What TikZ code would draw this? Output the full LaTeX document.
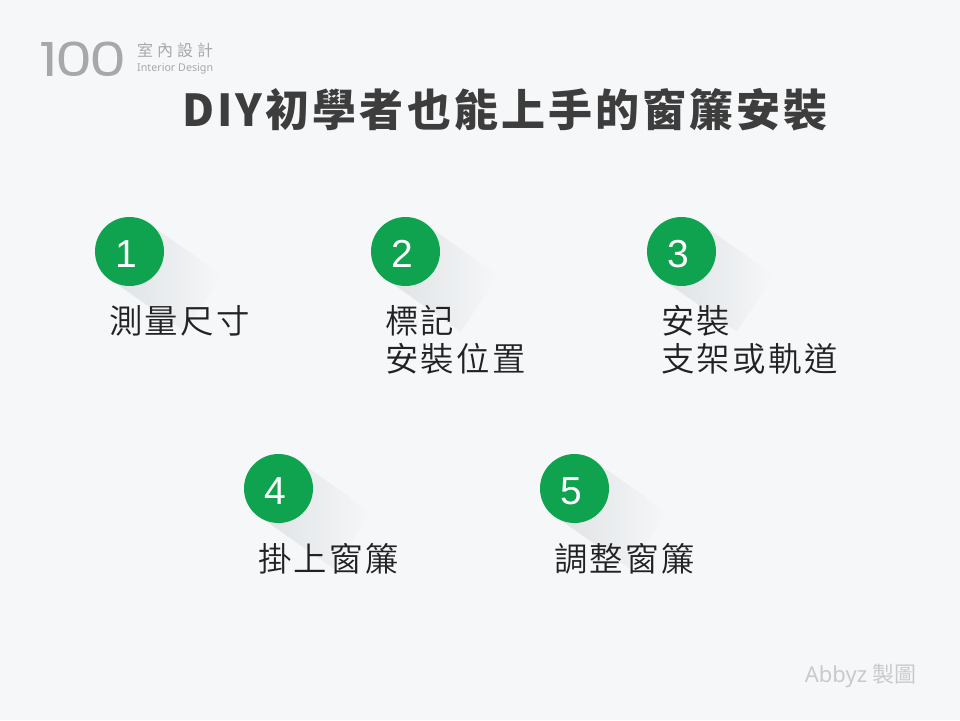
\documentclass[tikz,border=0pt]{standalone}
\usepackage{fontspec}
\setmainfont{Noto Sans}
\newfontfamily\cjkreg[LetterSpace=7]{Noto Sans CJK TC DemiLight}
\newfontfamily\cjktitle[LetterSpace=7]{Noto Sans CJK TC Black}
\newfontfamily\cjklogo[LetterSpace=25]{Noto Sans CJK TC}
\newfontfamily\cjkplain{Noto Sans CJK TC}
\newfontfamily\popfont{Poppins}
\newfontfamily\digitfont{Liberation Sans}
\definecolor{bgcol}{HTML}{F5F7F9}
\definecolor{greencol}{HTML}{0FA34F}
\definecolor{shadowcol}{HTML}{DFE2E4}
\definecolor{inkcol}{HTML}{222222}
\definecolor{titlecol}{HTML}{3D3D3D}
\definecolor{logocol}{HTML}{A6A8AA}
\definecolor{creditcol}{HTML}{C8CBCE}
\tikzset{
  stepdisc/.style={circle,fill=greencol,minimum size=69pt,inner sep=0pt},
  stepnum/.style={text=white,font=\digitfont\fontsize{39}{39}\selectfont,inner sep=0pt},
  steplabel/.style={text=inkcol,font=\cjkreg\fontsize{33.4}{38}\selectfont,inner sep=0pt,anchor=north west,align=left},
  longshadow/.style={shade,shading angle=-55,left color=shadowcol,right color=bgcol}
}
\newcommand{\stepmark}[4]{%
  \begin{scope}[shift={(#2,#3)}]
    \path[longshadow] (19,-28) -- (93,24) -- (55,80) -- (-19,28) -- cycle;
    \node[stepdisc] (#1) at (0,0) {};
    \node[stepnum] (#1n) at (-3,2.5) {#4};
  \end{scope}}
\begin{document}
\begin{tikzpicture}[x=1pt,y=-1pt]
\useasboundingbox (0,0) rectangle (960,720);
\fill[bgcol] (0,0) rectangle (960,720);
\node[text=logocol,inner sep=0pt,anchor=center,font=\popfont\fontsize{47}{47}\selectfont] (logo) at (83,59) {\scalebox{1.26}[1]{1\kern-2.5pt 0\kern-2.5pt 0}};
\node[text=logocol,inner sep=0pt,anchor=west,font=\cjklogo\fontsize{16}{16}\selectfont] (logocn) at (137,50) {室內設計};
\node[text=logocol,inner sep=0pt,anchor=west,font=\fontsize{10.7}{11}\selectfont] (logoen) at (137,69) {Interior Design};
\node[text=titlecol,inner sep=0pt,anchor=center,font=\cjktitle\fontsize{44}{44}\selectfont] (title) at (505,109.5) {DIY初學者也能上手的窗簾安裝};
\stepmark{a}{129.5}{251.5}{1}
\stepmark{b}{405.5}{251.5}{2}
\stepmark{c}{681.5}{251.5}{3}
\stepmark{d}{278.5}{488.5}{4}
\stepmark{e}{574.5}{488.5}{5}
\node[steplabel] (la) at (109,305) {測量尺寸};
\node[steplabel] (lb) at (385,305) {標記\\安裝位置};
\node[steplabel] (lc) at (661,305) {安裝\\支架或軌道};
\node[steplabel] (ld) at (258,543) {掛上窗簾};
\node[steplabel] (le) at (554,543) {調整窗簾};
\node[text=creditcol,inner sep=0pt,anchor=east,font=\fontsize{22}{22}\selectfont] (credit) at (917,676) {Abbyz {\cjkplain 製圖}};
\end{tikzpicture}
\end{document}
